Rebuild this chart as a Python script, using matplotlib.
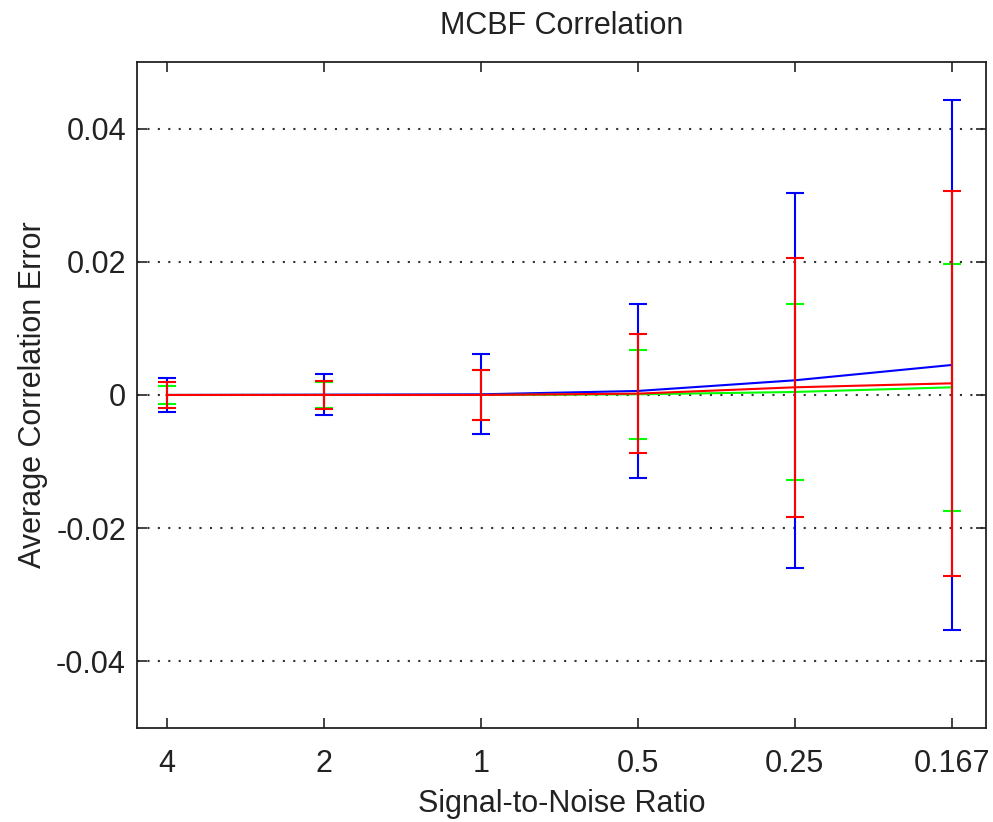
import numpy as np
import matplotlib
matplotlib.use('Agg')
import matplotlib.pyplot as plt

plt.rcParams['font.family'] = ['Liberation Sans', 'DejaVu Sans']
plt.rcParams['font.size'] = 22
plt.rcParams['text.color'] = '#222222'
plt.rcParams['xtick.labelcolor'] = '#222222'
plt.rcParams['ytick.labelcolor'] = '#222222'
plt.rcParams['axes.labelcolor'] = '#222222'

snr_labels = ['4', '2', '1', '0.5', '0.25', '0.167']

# mean error and std for each method (blue, green, red)
blue_mean = [0.0, 0.00005, 0.0001, 0.0006, 0.0022, 0.0045]
blue_std = [0.0026, 0.00305, 0.0060, 0.0131, 0.0282, 0.0398]
green_mean = [0.0, 0.0, 0.0, 0.0001, 0.00045, 0.00115]
green_std = [0.0013, 0.0019, 0.0037, 0.0067, 0.01325, 0.01855]
red_mean = [0.0, 0.0, 0.0, 0.0002, 0.00115, 0.00175]
red_std = [0.0019, 0.00205, 0.00375, 0.0089, 0.01945, 0.02895]

x = np.arange(1, len(snr_labels) + 1)

fig = plt.figure(figsize=(9.93, 8.22), dpi=100)
ax = fig.add_axes([0.138, 0.1144, 0.855, 0.8102])

ax.errorbar(x, blue_mean, yerr=blue_std, color='#0000ff', lw=1.5, capsize=6.5, capthick=1.5, zorder=3)
ax.errorbar(x, green_mean, yerr=green_std, color='#00ff00', lw=1.5, capsize=6.5, capthick=1.5, zorder=4)
ax.errorbar(x, red_mean, yerr=red_std, color='#ff0000', lw=1.5, capsize=6.5, capthick=1.5, zorder=5)

ax.set_xlim(0.81, 6.22)
ax.set_ylim(-0.05, 0.05)
ax.set_xticks(x)
ax.set_xticklabels(snr_labels)
ax.set_yticks([-0.04, -0.02, 0, 0.02, 0.04])
ax.set_yticklabels(['-0.04', '-0.02', '0', '0.02', '0.04'])

ax.yaxis.grid(True, color='#333333', linestyle=(0, (1, 4)), linewidth=1.5)
ax.set_axisbelow(True)

ax.tick_params(direction='in', length=7, width=1.2, top=True, right=True, color='#222222')
ax.tick_params(axis='x', pad=15)
ax.tick_params(axis='y', pad=8)
for s in ax.spines.values():
    s.set_linewidth(1.3)
    s.set_color('#222222')

ax.set_title('MCBF Correlation', pad=20, fontsize=22)
ax.set_xlabel('Signal-to-Noise Ratio', labelpad=7)
ax.set_ylabel('Average Correlation Error', labelpad=6)

fig.savefig('out.png', dpi=100)
